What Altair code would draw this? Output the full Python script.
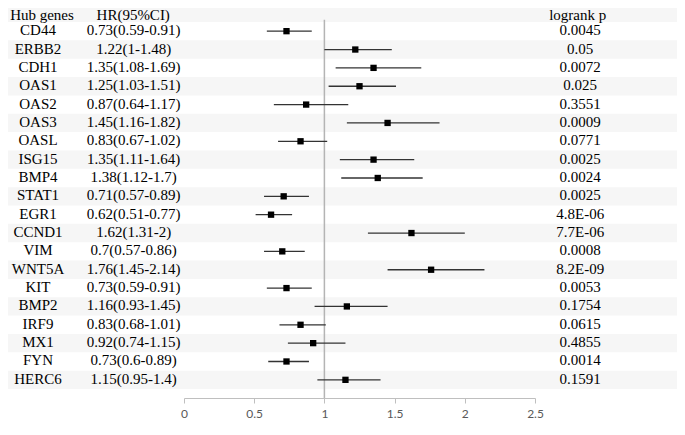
import altair as alt
import pandas as pd

genes = ["CD44", "ERBB2", "CDH1", "OAS1", "OAS2", "OAS3", "OASL", "ISG15", "BMP4", "STAT1",
         "EGR1", "CCND1", "VIM", "WNT5A", "KIT", "BMP2", "IRF9", "MX1", "FYN", "HERC6"]
hr = [0.73, 1.22, 1.35, 1.25, 0.87, 1.45, 0.83, 1.35, 1.38, 0.71,
      0.62, 1.62, 0.7, 1.76, 0.73, 1.16, 0.83, 0.92, 0.73, 1.15]
lo = [0.59, 1, 1.08, 1.03, 0.64, 1.16, 0.67, 1.11, 1.12, 0.57,
      0.51, 1.31, 0.57, 1.45, 0.59, 0.93, 0.68, 0.74, 0.6, 0.95]
hi = [0.91, 1.48, 1.69, 1.51, 1.17, 1.82, 1.02, 1.64, 1.7, 0.89,
      0.77, 2, 0.86, 2.14, 0.91, 1.45, 1.01, 1.15, 0.89, 1.4]
pvals = ["0.0045", "0.05", "0.0072", "0.025", "0.3551", "0.0009", "0.0771", "0.0025", "0.0024", "0.0025",
         "4.8E-06", "7.7E-06", "0.0008", "8.2E-09", "0.0053", "0.1754", "0.0615", "0.4855", "0.0014", "0.1591"]
headers = ["Hub genes", "HR(95%CI)", "logrank p"]
x_ticks = [0, 0.5, 1, 1.5, 2, 2.5]

W, H = 351, 390
D0, D1 = -1.263, 19.99
HEADER_ROW = -0.80
SERIF = "Liberation Serif"

df = pd.DataFrame({
    "gene": genes, "hr": hr, "lo": lo, "hi": hi, "p": pvals,
    "row": list(range(len(genes))),
})
df["hrtxt"] = [f"{a:g}({b:g}-{c:g})" for a, b, c in zip(hr, lo, hi)]

band_rows = [-1] + [i for i in range(len(genes)) if i % 2 == 1]
bands = pd.DataFrame({"y0": [r - 0.5 for r in band_rows], "y1": [r + 0.5 for r in band_rows]})

yscale = alt.Scale(domain=[D0, D1], reverse=True, nice=False, zero=False)
xscale = alt.Scale(domain=[0, 2.5], nice=False, zero=False)

band_layer = alt.Chart(bands).mark_rect(color="#f6f6f6").encode(
    x=alt.value(-177), x2=alt.value(493),
    y=alt.Y("y0:Q", scale=yscale, axis=None), y2="y1:Q")

ref_layer = alt.Chart(pd.DataFrame({"v": [1], "top": [-0.62]})).mark_rule(
    color="#b4b4b4", strokeWidth=1.5).encode(
    x=alt.X("v:Q", scale=xscale),
    y=alt.Y("top:Q", scale=yscale, axis=None), y2=alt.value(H))

ci_layer = alt.Chart(df).mark_rule(color="#333333", strokeWidth=1.3).encode(
    x=alt.X("lo:Q", scale=xscale, title=None,
            axis=alt.Axis(values=x_ticks, format="~g", grid=False, domainColor="#bfbfbf",
                          tickColor="#bfbfbf", tickSize=5, labelFont="Lato", labelFontSize=12,
                          labelColor="#595959", labelPadding=5, labelFlush=False)),
    x2="hi:Q",
    y=alt.Y("row:Q", scale=yscale, axis=None))

pt_layer = alt.Chart(df).mark_square(size=40, color="black", opacity=1).encode(
    x=alt.X("hr:Q", scale=xscale),
    y=alt.Y("row:Q", scale=yscale, axis=None))


def col_text(field, xpix):
    return alt.Chart(df).mark_text(font=SERIF, fontSize=15, color="black", align="center",
                                   baseline="middle", dy=-1).encode(
        x=alt.value(xpix), y=alt.Y("row:Q", scale=yscale, axis=None), text=f"{field}:N")


hdr_df = pd.DataFrame({"label": headers, "row": [HEADER_ROW] * 3})


def hdr_text(i, xpix):
    return alt.Chart(hdr_df.iloc[[i]]).mark_text(font=SERIF, fontSize=15, color="black",
                                                 align="center", baseline="middle", dy=-1).encode(
        x=alt.value(xpix), y=alt.Y("row:Q", scale=yscale, axis=None), text="label:N")


chart = alt.layer(
    band_layer, ref_layer, ci_layer, pt_layer,
    col_text("gene", -146), col_text("hrtxt", -50.3), col_text("p", 396.2),
    hdr_text(0, -142), hdr_text(1, -50.8), hdr_text(2, 393.7),
).properties(
    width=W, height=H,
    autosize=alt.AutoSizeParams(type="none"),
    padding={"left": 176, "top": 0, "right": 142, "bottom": 25},
).configure_view(stroke=None)

chart.save("out.html", embed_options={"renderer": "svg", "actions": False})
